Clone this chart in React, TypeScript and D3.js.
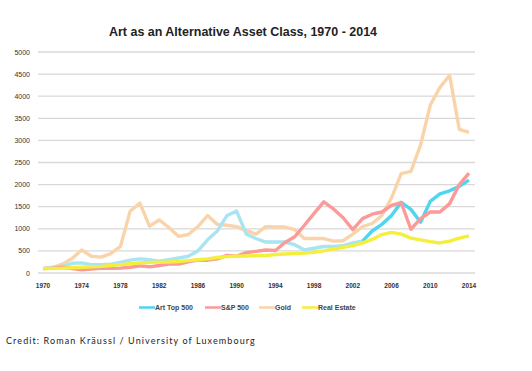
import { useEffect, useRef } from 'react'
import * as d3 from 'd3'

const years = d3.range(1970, 2015)
const tickYears = [1970, 1974, 1978, 1982, 1986, 1990, 1994, 1998, 2002, 2006, 2010, 2014]
const yTicks = [0, 500, 1000, 1500, 2000, 2500, 3000, 3500, 4000, 4500, 5000]

const artTop500 = [100, 120, 150, 220, 230, 190, 190, 200, 240, 290, 320, 300, 270, 300, 340, 380, 500, 750, 950, 1300, 1400, 880, 780, 700, 700, 700, 640, 520, 560, 600, 600, 620, 680, 720, 950, 1100, 1300, 1600, 1440, 1150, 1620, 1790, 1860, 1960, 2100]
const sp500 = [100, 110, 130, 100, 70, 90, 110, 105, 110, 130, 160, 140, 170, 200, 200, 250, 290, 290, 320, 400, 380, 460, 490, 520, 510, 690, 820, 1080, 1350, 1610, 1450, 1250, 980, 1230, 1330, 1380, 1530, 1590, 990, 1230, 1380, 1380, 1570, 2000, 2260]
const gold = [100, 130, 200, 330, 520, 380, 360, 440, 600, 1400, 1580, 1060, 1200, 1030, 830, 870, 1050, 1300, 1100, 1080, 1050, 960, 880, 1050, 1040, 1040, 980, 780, 780, 780, 720, 730, 880, 1050, 1120, 1300, 1700, 2250, 2300, 2900, 3800, 4200, 4470, 3250, 3180]
const realEstate = [100, 105, 110, 120, 130, 140, 150, 170, 190, 210, 230, 240, 245, 250, 260, 280, 300, 320, 350, 370, 380, 385, 390, 395, 420, 430, 440, 450, 470, 500, 540, 580, 620, 680, 760, 870, 920, 880, 790, 750, 710, 680, 720, 790, 840]

// the art line is paler before 2003 in the original
const artPaleUntil = 2003

const series = [
  { name: 'Gold', values: gold, color: '#F9D4AA' },
  { name: 'Art Top 500', values: artTop500, color: '#4FD5F0', pale: '#A9E4F2' },
  { name: 'S&P 500', values: sp500, color: '#FC9A9A' },
  { name: 'Real Estate', values: realEstate, color: '#F4EE3C' },
]
const legendOrder = ['Art Top 500', 'S&P 500', 'Gold', 'Real Estate']

export default function App() {
  const ref = useRef<SVGSVGElement>(null)

  useEffect(() => {
    document.body.style.margin = '0'
    const svg = d3.select(ref.current)
    svg.selectAll('*').remove()

    const width = 532
    const height = 371
    const margin = { top: 52, right: 63, bottom: 98, left: 43 }

    svg.append('rect').attr('width', width).attr('height', height).attr('fill', '#fff')

    const x = d3.scaleLinear()
      .domain([1970, 2014])
      .range([margin.left, width - margin.right])

    const y = d3.scaleLinear()
      .domain([0, 5000])
      .range([height - margin.bottom, margin.top])

    // title
    svg.append('text')
      .attr('x', 243)
      .attr('y', 36)
      .attr('text-anchor', 'middle')
      .attr('font-family', 'Liberation Sans, Arial, sans-serif')
      .attr('font-weight', 'bold')
      .attr('font-size', 13.5)
      .attr('fill', '#222')
      .attr('textLength', 268)
      .attr('lengthAdjust', 'spacingAndGlyphs')
      .text('Art as an Alternative Asset Class, 1970 - 2014')

    // gridlines
    svg.append('g')
      .selectAll('line')
      .data(yTicks)
      .join('line')
      .attr('x1', 38)
      .attr('x2', 475)
      .attr('y1', d => y(d))
      .attr('y2', d => y(d))
      .attr('stroke', '#d9d9d9')
      .attr('stroke-width', 1.3)

    // y labels
    svg.append('g')
      .selectAll('text')
      .data(yTicks)
      .join('text')
      .attr('x', 30)
      .attr('y', d => y(d) + 2.5)
      .attr('text-anchor', 'end')
      .attr('font-family', 'Liberation Sans, Arial, sans-serif')
      .attr('font-size', 7)
      .attr('fill', '#333')
      .text(d => d)

    // x labels
    svg.append('g')
      .selectAll('text')
      .data(tickYears)
      .join('text')
      .attr('x', d => x(d))
      .attr('y', y(0) + 15)
      .attr('text-anchor', 'middle')
      .attr('font-family', 'Liberation Sans, Arial, sans-serif')
      .attr('font-weight', 'bold')
      .attr('font-size', 6.5)
      .attr('fill', '#333')
      .text(d => d)

    const line = d3.line<[number, number]>()
      .x(d => x(d[0]))
      .y(d => y(d[1]))

    // lines
    series.forEach(s => {
      const pts = s.values.map((v, i) => [years[i], v] as [number, number])
      if (s.pale) {
        svg.append('path')
          .datum(pts.filter(p => p[0] <= artPaleUntil))
          .attr('fill', 'none')
          .attr('stroke', s.pale)
          .attr('stroke-width', 3.4)
          .attr('stroke-linejoin', 'round')
          .attr('d', line)
        svg.append('path')
          .datum(pts.filter(p => p[0] >= artPaleUntil))
          .attr('fill', 'none')
          .attr('stroke', s.color)
          .attr('stroke-width', 3.4)
          .attr('stroke-linejoin', 'round')
          .attr('d', line)
        return
      }
      svg.append('path')
        .datum(pts)
        .attr('fill', 'none')
        .attr('stroke', s.color)
        .attr('stroke-width', 3.4)
        .attr('stroke-linejoin', 'round')
        .attr('d', line)
    })

    // legend
    const legendX = [139, 205, 259, 302]
    const lg = svg.append('g')
    legendOrder.forEach((name, i) => {
      const s = series.find(d => d.name === name)!
      lg.append('line')
        .attr('x1', legendX[i])
        .attr('x2', legendX[i] + 16)
        .attr('y1', 307.5)
        .attr('y2', 307.5)
        .attr('stroke', s.color)
        .attr('stroke-width', 2.5)
      lg.append('text')
        .attr('x', legendX[i] + 16)
        .attr('y', 310)
        .attr('font-family', 'Liberation Sans, Arial, sans-serif')
        .attr('font-weight', 'bold')
        .attr('font-size', 7)
        .attr('fill', '#444')
        .text(name)
    })

    // credit
    svg.append('text')
      .attr('x', 6)
      .attr('y', 344)
      .attr('font-family', 'Lato, sans-serif')
      .attr('font-size', 9)
      .attr('letter-spacing', 1.1)
      .attr('fill', '#222')
      .text('Credit: Roman Kräussl / University of Luxembourg')
  }, [])

  return (
    <svg ref={ref} width={532} height={371} style={{ display: 'block' }} />
  )
}
